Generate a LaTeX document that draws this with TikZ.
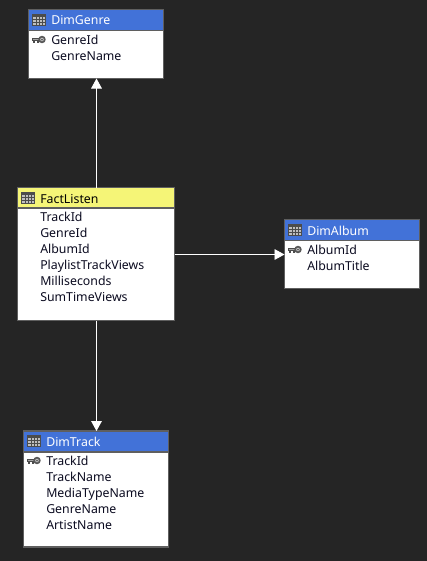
\documentclass[tikz,border=0pt]{standalone}
\usepackage{fontspec}
\setmainfont{Noto Sans}
\usetikzlibrary{arrows.meta}
\definecolor{bgc}{HTML}{252525}
\definecolor{edgec}{HTML}{5F5F5F}
\definecolor{headblue}{HTML}{4272D8}
\definecolor{headyellow}{HTML}{F5F577}
\definecolor{txtc}{HTML}{0B0B20}
\tikzset{
  x=0.75pt,y=-0.75pt,
  tablebox/.style={draw=edgec,fill=white,line width=1.1pt,inner sep=0pt,outer sep=0pt,anchor=north west},
  headbar/.style={fill=#1,inner sep=0pt,outer sep=0pt,anchor=north west},
  rowtext/.style={anchor=base west,inner sep=0pt,font=\fontsize{9.25pt}{11pt}\selectfont,text=txtc},
  titletext/.style={anchor=base west,inner sep=0pt,font=\fontsize{9.25pt}{11pt}\selectfont,text=#1},
  rel/.style={draw=white,line width=0.7pt,-{Triangle[length=7.5pt,width=8pt]}},
  nudgex/.style={xshift=0.375pt},
  nudgey/.style={yshift=-0.375pt}
}
\newcommand{\tableicon}[2]{%
  \begin{scope}[shift={(#1,#2)}]
    \fill[black!70] (0,0) rectangle (14,12);
    \fill[black!25] (1,1) rectangle (13,11);
    \fill[black!70] (1,1) rectangle (13,3.2);
    \foreach \gx in {4.5,7.5,10.5} \draw[black!70,line width=0.6pt] (\gx,3) -- (\gx,11);
    \foreach \gy in {5.5,8} \draw[black!70,line width=0.6pt] (1,\gy) -- (13,\gy);
  \end{scope}}
\newcommand{\keyicon}[2]{%
  \begin{scope}[shift={(#1,#2)}]
    \fill[black!70] (0,-2) rectangle (8,1.6);
    \fill[black!70] (1,1) rectangle (3,3.4);
    \fill[black!70] (4.5,1) rectangle (6.5,3.4);
    \fill[black!35] (1,-1) rectangle (8,0.3);
    \draw[black!65,fill=black!20,line width=1.3pt] (10,0) circle (2.8);
    \fill[black!65] (10,0) circle (1);
  \end{scope}}
% #1 name, #2 left, #3 top, #4 right, #5 bottom, #6 header bottom, #7 header colour
\newcommand{\tablefill}[7]{%
  \node[tablebox,minimum width={(#4-#2)*0.75pt},minimum height={(#5-#3)*0.75pt}] (#1) at (#2,#3) {};
  \node[headbar=#7,minimum width={(#4-#2-1)*0.75pt},minimum height={(#6-#3-1)*0.75pt}] (#1head) at (#2+0.5,#3+0.5) {};
  \draw[edgec,line width=0.9pt] (#1.west |- #1head.south) -- (#1.east |- #1head.south);}
\begin{document}
\begin{tikzpicture}
\useasboundingbox (0,0) rectangle (427,561);
\fill[bgc] (0,0) rectangle (427,561);
% tables
\tablefill{genre}{28.5}{9.5}{163.5}{78.5}{31}{headblue}
\tablefill{fact}{17.5}{187.5}{174.5}{320.5}{208.5}{headyellow}
\tablefill{album}{284.5}{219.5}{419.5}{288.5}{241}{headblue}
\tablefill{track}{23.5}{431}{168.5}{547}{452.5}{headblue}
% icons
\tableicon{32}{14}
\tableicon{21}{192}
\tableicon{288}{224}
\tableicon{27}{435}
\keyicon{32}{39.5}
\keyicon{288}{249.5}
\keyicon{27}{460.5}
% titles
\node[titletext=white] (t1) at (51,24.5) {DimGenre};
\node[titletext=black] (t2) at (40,203.5) {FactListen};
\node[titletext=white] (t3) at (307,235) {DimAlbum};
\node[titletext=white] (t4) at (46,446.5) {DimTrack};
% rows
\node[rowtext] (g1) at (51,44.5) {GenreId};
\node[rowtext] (g2) at (51,60.5) {GenreName};
\node[rowtext] (f1) at (40,221.5) {TrackId};
\node[rowtext] (f2) at (40,237.5) {GenreId};
\node[rowtext] (f3) at (40,253.5) {AlbumId};
\node[rowtext] (f4) at (40,269.5) {PlaylistTrackViews};
\node[rowtext] (f5) at (40,285.5) {Milliseconds};
\node[rowtext] (f6) at (40,301.5) {SumTimeViews};
\node[rowtext] (a1) at (307,254.5) {AlbumId};
\node[rowtext] (a2) at (307,270.5) {AlbumTitle};
\node[rowtext] (r1) at (46,465.5) {TrackId};
\node[rowtext] (r2) at (46,481.5) {TrackName};
\node[rowtext] (r3) at (46,497.5) {MediaTypeName};
\node[rowtext] (r4) at (46,513.5) {GenreName};
\node[rowtext] (r5) at (46,529.5) {ArtistName};
% connectors
\draw[rel] ([nudgex]fact.north) -- ([nudgex]fact.north |- genre.south);
\draw[rel] ([nudgey]fact.east) -- ([nudgey]fact.east -| album.west);
\draw[rel] ([nudgex]fact.south) -- ([nudgex]fact.south |- track.north);
\end{tikzpicture}
\end{document}
